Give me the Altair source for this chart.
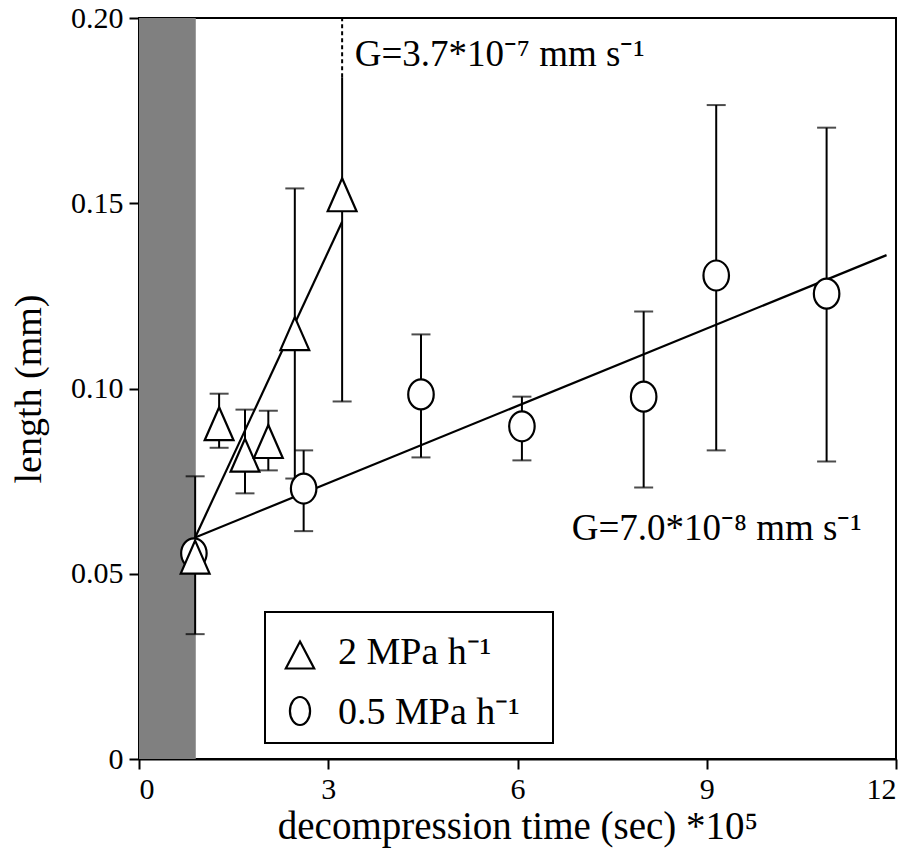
import altair as alt
import pandas as pd

# ---------------- data ----------------
# 2 MPa h-1 (triangles)
tri_x = [0.89, 1.27, 1.68, 2.05, 2.47, 3.22]
tri_y = [0.0545, 0.0905, 0.0820, 0.0857, 0.1148, 0.1523]
tri_lo = [0.0337, 0.0840, 0.0717, 0.0779, 0.0757, 0.0965]
tri_hi = [0.0763, 0.0986, 0.0943, 0.0940, 0.1540, 0.1840]
tri_hi_cap = [True, True, True, True, True, False]
# clipped continuation of the last upper whisker (dashed)
dash_x = [3.22]
dash_lo = [0.1840]
dash_hi = [0.2000]

# 0.5 MPa h-1 (circles)
cir_x = [0.87, 2.61, 4.47, 6.07, 8.00, 9.15, 10.90]
cir_y = [0.0555, 0.0730, 0.0984, 0.0898, 0.0978, 0.1305, 0.1256]
cir_lo = [None, 0.0615, 0.0814, 0.0806, 0.0733, 0.0833, 0.0803]
cir_hi = [None, 0.0833, 0.1146, 0.0978, 0.1208, 0.1765, 0.1704]

# fitted growth lines
fit_fast_x = [0.89, 3.22]
fit_fast_y = [0.0598, 0.1450]
fit_slow_x = [0.89, 11.85]
fit_slow_y = [0.0598, 0.1360]

# shaded band
band_x = [0.0]
band_x2 = [0.90]

# annotations
ann_x = [3.42, 6.86]
ann_y = [0.1870, 0.0590]
ann_text = ["G=3.7*10⁻⁷ mm s⁻¹", "G=7.0*10⁻⁸ mm s⁻¹"]

legend_labels = ["2 MPa h⁻¹", "0.5 MPa h⁻¹"]

x_ticks = [0, 3, 6, 9, 12]
y_ticks = [0, 0.05, 0.10, 0.15, 0.20]

FONT = "Liberation Serif"
TRI_PATH = "M0,-1L0.875,1L-0.875,1Z"
CIR_PATH = "M0,-1A0.85,1,0,1,1,0,1A0.85,1,0,1,1,0,-1Z"
TRI_LEG_PATH = "M0,-1L1.05,1L-1.05,1Z"
CIR_LEG_PATH = "M0,-1A0.72,1,0,1,1,0,1A0.72,1,0,1,1,0,-1Z"

# ---------------- tables ----------------
tri = pd.DataFrame({"x": tri_x, "y": tri_y, "lo": tri_lo, "hi": tri_hi, "cap": tri_hi_cap})
cir = pd.DataFrame({"x": cir_x, "y": cir_y, "lo": cir_lo, "hi": cir_hi})
cir_err = cir.dropna()
err = pd.concat([tri[["x", "lo", "hi"]], cir_err[["x", "lo", "hi"]]], ignore_index=True)
caps = pd.concat([
    pd.DataFrame({"x": tri["x"], "v": tri["lo"]}),
    pd.DataFrame({"x": tri["x"][tri["cap"]], "v": tri["hi"][tri["cap"]]}),
    pd.DataFrame({"x": cir_err["x"], "v": cir_err["lo"]}),
    pd.DataFrame({"x": cir_err["x"], "v": cir_err["hi"]}),
], ignore_index=True)
dash = pd.DataFrame({"x": dash_x, "lo": dash_lo, "hi": dash_hi})
fit_fast = pd.DataFrame({"x": fit_fast_x, "y": fit_fast_y})
fit_slow = pd.DataFrame({"x": fit_slow_x, "y": fit_slow_y})
band = pd.DataFrame({"x": band_x, "x2": band_x2, "y": [0.0], "y2": [0.2]})
ann = pd.DataFrame({"x": ann_x, "y": ann_y, "t": ann_text})

xs = alt.Scale(domain=[0, 12], nice=False, zero=False)
ys = alt.Scale(domain=[0, 0.2], nice=False, zero=False)

xaxis = alt.Axis(values=x_ticks, title="decompression time (sec) *10⁵",
                 format="d", labelPadding=5, titlePadding=3, titleFontSize=39)
yaxis = alt.Axis(values=y_ticks, title="length (mm)",
                 labelExpr="datum.value == 0 ? '0' : format(datum.value, '.2f')",
                 labelPadding=6, titlePadding=22, titleFontSize=38)


def XQ(field):
    return alt.X(field, scale=xs, axis=xaxis)


def YQ(field):
    return alt.Y(field, scale=ys, axis=yaxis)


band_l = alt.Chart(band).mark_rect(color="#808080").encode(
    x=XQ("x:Q"), x2="x2:Q", y=YQ("y:Q"), y2="y2:Q")

err_l = alt.Chart(err).mark_rule(color="black", strokeWidth=2).encode(
    x=XQ("x:Q"), y=YQ("lo:Q"), y2="hi:Q")
dash_l = alt.Chart(dash).mark_rule(color="black", strokeWidth=2, strokeDash=[4, 3]).encode(
    x=XQ("x:Q"), y=YQ("lo:Q"), y2="hi:Q")
caps_l = alt.Chart(caps).mark_tick(color="black", orient="horizontal", size=19, thickness=2).encode(
    x=XQ("x:Q"), y=YQ("v:Q"))

fast_l = alt.Chart(fit_fast).mark_line(color="black", strokeWidth=2.2).encode(
    x=XQ("x:Q"), y=YQ("y:Q"))
slow_l = alt.Chart(fit_slow).mark_line(color="black", strokeWidth=2.2).encode(
    x=XQ("x:Q"), y=YQ("y:Q"))

cir_l = alt.Chart(cir).mark_point(shape=CIR_PATH, size=900, filled=True, fill="white",
                                  stroke="black", strokeWidth=2.2, opacity=1).encode(
    x=XQ("x:Q"), y=YQ("y:Q"))
tri_l = alt.Chart(tri).mark_point(shape=TRI_PATH, size=1089, filled=True, fill="white",
                                  stroke="black", strokeWidth=2.2, opacity=1).encode(
    x=XQ("x:Q"), y=YQ("y:Q"))

ann_l = alt.Chart(ann).mark_text(align="left", baseline="alphabetic", font=FONT,
                                 fontSize=37, color="black").encode(
    x=XQ("x:Q"), y=YQ("y:Q"), text="t:N")

# ---------------- legend box (decoration) ----------------
leg = pd.DataFrame({"t": legend_labels})
one = pd.DataFrame({"k": [0]})
leg_box = alt.Chart(one).mark_rect(fill="white", stroke="black", strokeWidth=2).encode(
    x=alt.value(126), x2=alt.value(414), y=alt.value(594), y2=alt.value(725))
leg_tri = alt.Chart(one).mark_point(shape=TRI_LEG_PATH, size=729, filled=True, fill="white",
                                    stroke="black", strokeWidth=2.2, opacity=1).encode(
    x=alt.value(161), y=alt.value(637))
leg_cir = alt.Chart(one).mark_point(shape=CIR_LEG_PATH, size=784, filled=True, fill="white",
                                    stroke="black", strokeWidth=2.2, opacity=1).encode(
    x=alt.value(161), y=alt.value(693))
leg_t1 = alt.Chart(leg.iloc[[0]]).mark_text(align="left", baseline="alphabetic", font=FONT,
                                           fontSize=38, color="black").encode(
    x=alt.value(199), y=alt.value(646), text="t:N")
leg_t2 = alt.Chart(leg.iloc[[1]]).mark_text(align="left", baseline="alphabetic", font=FONT,
                                           fontSize=38, color="black").encode(
    x=alt.value(199), y=alt.value(706), text="t:N")

chart = alt.layer(
    band_l, err_l, dash_l, caps_l, fast_l, slow_l, cir_l, tri_l, ann_l,
    leg_box, leg_tri, leg_cir, leg_t1, leg_t2
).properties(
    width=757, height=741,
    autosize=alt.AutoSizeParams(type="none"),
    padding={"left": 131, "top": 10, "right": 12, "bottom": 90},
    background="white",
).configure_view(
    stroke="black", strokeWidth=2
).configure_axis(
    grid=False, domainColor="black", domainWidth=2, tickColor="black",
    tickWidth=2, tickSize=10, labelFont=FONT, labelFontSize=30, labelColor="black",
    titleFont=FONT, titleFontSize=40, titleColor="black", titleFontWeight="normal"
)

chart.save("out.html", embed_options={"renderer": "svg", "actions": False})
